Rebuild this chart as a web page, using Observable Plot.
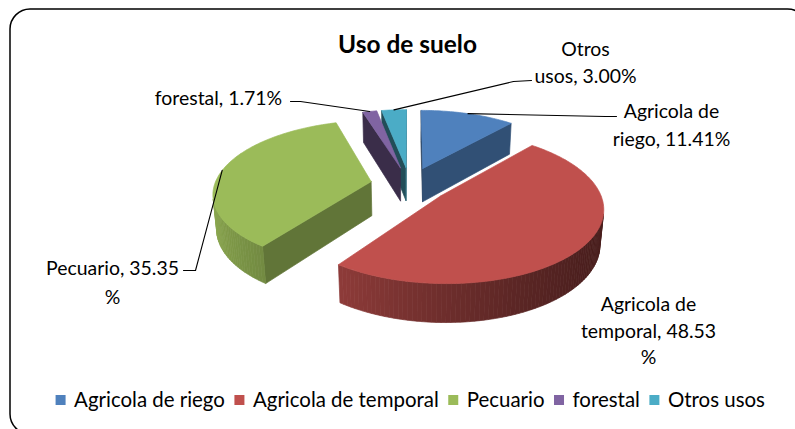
<!DOCTYPE html>
<html><head><meta charset="utf-8">
<script src="https://cdn.jsdelivr.net/npm/d3@7"></script>
<script src="https://cdn.jsdelivr.net/npm/@observablehq/plot@0.6"></script>
<style>body{margin:0;background:#fff}</style>
</head><body><div id="chart"></div>
<script>
// ---- data ----
const categories = ["Agricola de riego", "Agricola de temporal", "Pecuario", "forestal", "Otros usos"];
const values = [11.41, 48.53, 35.35, 1.71, 3.00];
const colors = ["#4F81BD", "#C0504D", "#9BBB59", "#8064A2", "#4BACC6"];
const labelLines = [
  ["Agricola de", "riego, 11.41%"],
  ["Agricola de", "temporal, 48.53", "%"],
  ["Pecuario, 35.35", "%"],
  ["forestal, 1.71%"],
  ["Otros", "usos, 3.00%"]
];
const title = "Uso de suelo";

// ---- layout / style ----
const W = 795, H = 429;
const FONT = 'Lato, "Open Sans", sans-serif';
const view = {cx: 409, cy: 184, F: 939, D: 6, el: 27 * Math.PI / 180, h: 0.25, explode: 0.25};
const labelLayout = [
  {x: 671, y: [111, 139], leader: [[616, 116], [605, 116]]},
  {x: 648, y: [304, 331, 357], leader: null},
  {x: 112, y: [268, 297], leader: [[183, 270], [195, 270]]},
  {x: 218, y: [98], leader: [[290, 101], [300, 101]]},
  {x: 585, y: [49, 76], leader: [[531, 80], [513, 81]]}
];

// font sizes fitted to reference text widths
const ctx = document.createElement("canvas").getContext("2d");
function fitSize(text, target, weight = "normal") {
  ctx.font = `${weight} 20px ${FONT}`;
  return 20 * target / ctx.measureText(text).width;
}
const labelSize = fitSize("Pecuario, 35.35", 133);
const legendSize = fitSize("Agricola de temporal", 186);
const titleSize = fitSize("Uso de suelo", 139, "bold");

// ---- 3D projection ----
const {cx, cy, F, D, el, h, explode} = view;
const ce = Math.cos(el), se = Math.sin(el);
function proj([X, Y, Z]) {
  const depth = D + Y * ce - Z * se;
  return [cx + F * X / depth, cy - F * (Y * se + Z * ce) / depth];
}
const cam = [0, -D * ce, D * se];
const visible = (n, P) => n[0] * (cam[0] - P[0]) + n[1] * (cam[1] - P[1]) + n[2] * (cam[2] - P[2]) > 0;
const shade = (hex, f) => { const c = d3.rgb(hex); f = Math.max(0, Math.min(1, f)); return d3.rgb(c.r * f, c.g * f, c.b * f).formatHex(); };

const arcs = d3.pie().sort(null).value(d => d)(values);
const slices = arcs.map((p, i) => {
  const mid = (p.startAngle + p.endAngle) / 2;
  return {i, a0: p.startAngle, a1: p.endAngle, mid, ox: explode * Math.sin(mid), oy: explode * Math.cos(mid)};
});
const ptOf = s => (a, r, Z) => [s.ox + r * Math.sin(a), s.oy + r * Math.cos(a), Z];

const rows = [];
let pid = 0;
function addPoly(pts, fill) {
  const id = pid++;
  for (const [x, y] of pts) rows.push({id, x, y, fill});
  rows.push({id, x: pts[0][0], y: pts[0][1], fill});
}
const order = slices.slice().sort((a, b) => b.oy - a.oy);
for (const s of order) {
  const base = colors[s.i];
  const pt = ptOf(s);
  for (const [a, sign] of [[s.a0, -1], [s.a1, 1]]) {
    const na = a + sign * Math.PI / 2;
    const n = [Math.sin(na), Math.cos(na), 0];
    if (visible(n, pt(a, 0.5, -h / 2))) {
      addPoly([pt(a, 0, 0), pt(a, 1, 0), pt(a, 1, -h), pt(a, 0, -h)].map(proj), shade(base, 0.545 + 0.1 * Math.sin(na)));
    }
  }
  const steps = Math.max(2, Math.ceil((s.a1 - s.a0) / (Math.PI / 120)));
  for (let k = 0; k < steps; k++) {
    const t0 = s.a0 + (s.a1 - s.a0) * k / steps, t1 = s.a0 + (s.a1 - s.a0) * (k + 1) / steps, tm = (t0 + t1) / 2;
    const n = [Math.sin(tm), Math.cos(tm), 0];
    if (visible(n, pt(tm, 1, -h / 2))) {
      const f = 0.662 - 0.259 * Math.sin(tm) + 0.092 * Math.cos(tm);
      addPoly([pt(t0, 1, 0), pt(t1, 1, 0), pt(t1, 1, -h), pt(t0, 1, -h)].map(proj), shade(base, f));
    }
  }
  const top = [pt(0, 0, 0)];
  const ts = Math.max(2, Math.ceil((s.a1 - s.a0) / (Math.PI / 180)));
  for (let k = 0; k <= ts; k++) top.push(pt(s.a0 + (s.a1 - s.a0) * k / ts, 1, 0));
  addPoly(top.map(proj), base);
}

// ---- labels & leaders ----
const labelRows = [];
const leaderRows = [];
labelLines.forEach((lines, i) => {
  const L = labelLayout[i];
  lines.forEach((t, j) => labelRows.push({x: L.x, y: L.y[j], text: t}));
  if (L.leader) {
    const s = slices[i];
    const anchor = proj(ptOf(s)(s.mid, 1, 0));
    for (const [x, y] of [...L.leader, anchor]) leaderRows.push({id: i, x, y});
  }
});

// ---- legend ----
ctx.font = `normal ${legendSize}px ${FONT}`;
const sq = 10, gapSq = 8, gapItem = 10, legendY = 400;
const widths = categories.map(c => ctx.measureText(c).width);
const total = d3.sum(widths) + categories.length * (sq + gapSq) + (categories.length - 1) * gapItem;
let lx = 410 - total / 2;
const legendSquares = [], legendTexts = [];
categories.forEach((c, i) => {
  legendSquares.push({x1: lx, x2: lx + sq, y1: legendY - sq / 2, y2: legendY + sq / 2, fill: colors[i]});
  legendTexts.push({x: lx + sq + gapSq, y: legendY, text: c});
  lx += sq + gapSq + widths[i] + gapItem;
});

const chart = Plot.plot({
  width: W, height: H, margin: 0,
  x: {domain: [0, W], range: [0, W], axis: null},
  y: {domain: [0, H], range: [0, H], axis: null},
  color: {type: "identity"},
  style: {fontFamily: FONT, background: "white", overflow: "hidden"},
  marks: [
    Plot.line(rows, {x: "x", y: "y", z: "id", fill: "fill", stroke: "fill", strokeWidth: 0.7, curve: "linear"}),
    Plot.line(leaderRows, {x: "x", y: "y", z: "id", stroke: "black", strokeWidth: 1.1, curve: "linear"}),
    Plot.text(labelRows, {x: "x", y: "y", text: "text", fontSize: labelSize, fill: "black", textAnchor: "middle", lineAnchor: "middle"}),
    Plot.text([title], {x: 407, y: 45, text: d => d, fontSize: titleSize, fontWeight: "bold", fill: "black", textAnchor: "middle", lineAnchor: "middle"}),
    Plot.rect(legendSquares, {x1: "x1", x2: "x2", y1: "y1", y2: "y2", fill: "fill"}),
    Plot.text(legendTexts, {x: "x", y: "y", text: "text", fontSize: legendSize, fill: "black", textAnchor: "start", lineAnchor: "middle"}),
    Plot.frame({stroke: "black", strokeWidth: 1.5, rx: 20, insetLeft: 9.5, insetTop: 8.5, insetRight: -12, insetBottom: -4.5})
  ]
});
document.getElementById("chart").appendChild(chart);
</script>
</body></html>
